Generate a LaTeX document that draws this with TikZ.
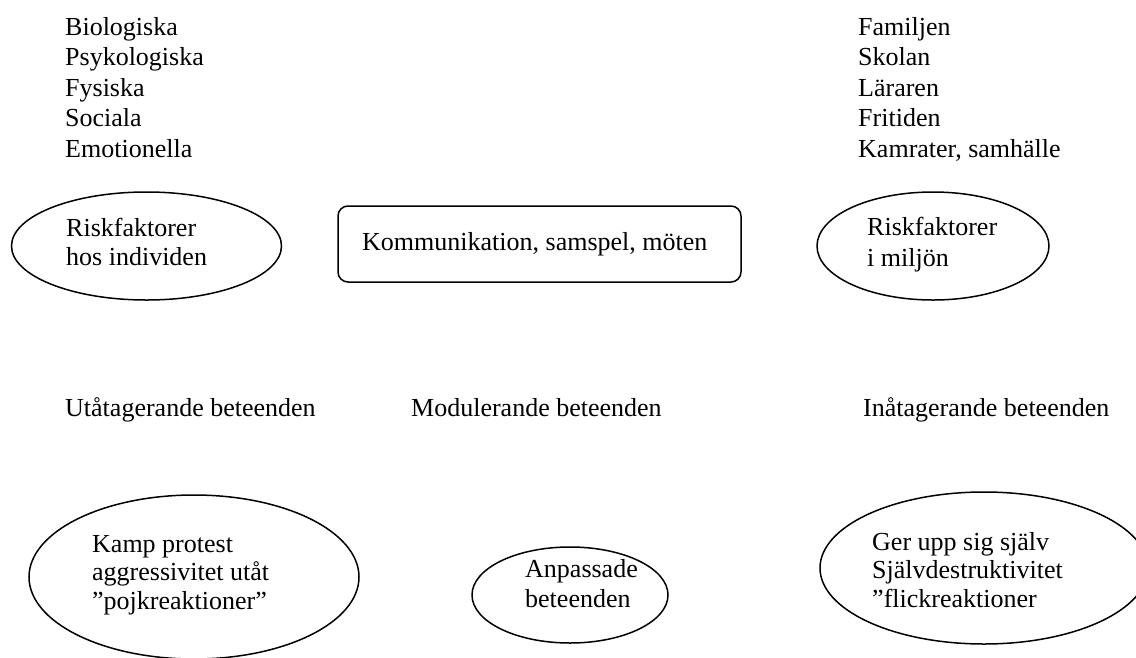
\documentclass[tikz,border=0pt]{standalone}
\usepackage{fontspec}
\setmainfont{Liberation Serif}
\usetikzlibrary{shapes.geometric}
\begin{document}
\begin{tikzpicture}[x=1pt,y=-1pt,
  lbl/.style={anchor=base west,inner sep=0pt,font=\fontsize{26}{30}\selectfont},
  oval/.style={draw,line width=1.5pt,ellipse,inner sep=0pt},
  rbox/.style={draw,line width=1.5pt,rounded corners=10pt,inner sep=0pt}]
\useasboundingbox (0,0) rectangle (1136,657);
% top lists
\node[lbl] (b1) at (65,35) {Biologiska};
\node[lbl] (b2) at (65,65.5) {Psykologiska};
\node[lbl] (b3) at (65,96) {Fysiska};
\node[lbl] (b4) at (65,126.5) {Sociala};
\node[lbl] (b5) at (65,157) {Emotionella};
\node[lbl] (f1) at (858,35) {Familjen};
\node[lbl] (f2) at (858,65.5) {Skolan};
\node[lbl] (f3) at (858,96) {Läraren};
\node[lbl] (f4) at (858,126.5) {Fritiden};
\node[lbl] (f5) at (858,157) {Kamrater, samhälle};
% second row shapes
\node[oval,minimum width=270pt,minimum height=108pt] (e1) at (146.5,246) {};
\node[lbl] (t1a) at (66,236) {Riskfaktorer};
\node[lbl] (t1b) at (66,265) {hos individen};
\node[rbox,minimum width=403pt,minimum height=76pt] (r1) at (539.5,244) {};
\node[lbl] (tr) at (362,250) {Kommunikation, samspel, möten};
\node[oval,minimum width=232pt,minimum height=108pt] (e2) at (933,246) {};
\node[lbl] (t2a) at (867,235) {Riskfaktorer};
\node[lbl] (t2b) at (867,266) {i miljön};
% middle row
\node[lbl] (m1) at (65,416) {Utåtagerande beteenden};
\node[lbl] (m2) at (411,416) {Modulerande beteenden};
\node[lbl] (m3) at (863,416) {Inåtagerande beteenden};
% bottom ellipses
\node[oval,minimum width=330pt,minimum height=164pt] (e3) at (194,577) {};
\node[lbl] (t3a) at (92,552) {Kamp protest};
\node[lbl] (t3b) at (92,580.5) {aggressivitet utåt};
\node[lbl] (t3c) at (92,609) {”pojkreaktioner”};
\node[oval,minimum width=196pt,minimum height=96pt] (e4) at (570,595) {};
\node[lbl] (t4a) at (525,577) {Anpassade};
\node[lbl] (t4b) at (525,607) {beteenden};
\node[oval,minimum width=328pt,minimum height=152pt] (e5) at (984,568) {};
\node[lbl] (t5a) at (872,550) {Ger upp sig själv};
\node[lbl] (t5b) at (872,578.5) {Självdestruktivitet};
\node[lbl] (t5c) at (872,607) {”flickreaktioner};
\end{tikzpicture}
\end{document}
